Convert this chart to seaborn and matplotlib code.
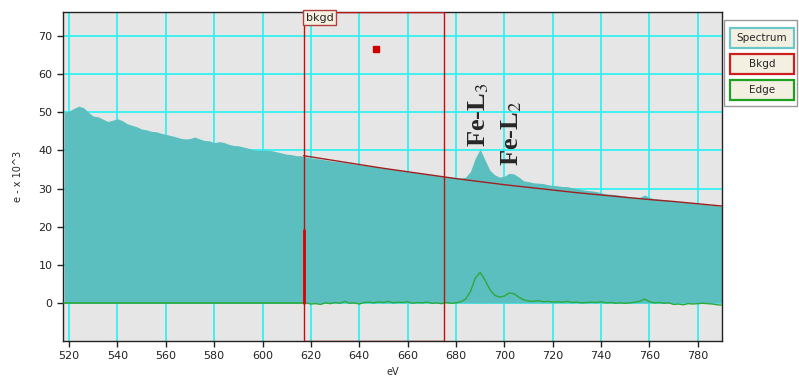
import numpy as np
import matplotlib
matplotlib.use("Agg")
import matplotlib.pyplot as plt
import seaborn as sns
from matplotlib.patches import Rectangle

# Datos (eV, e- x 10^3)
spec_ev = np.arange(518, 791, 2)
spectrum = [
    50.0, 50.3, 51.0, 51.6, 51.2, 50.0, 49.0, 48.8, 48.2, 47.6,
    47.9, 48.3, 47.8, 47.0, 46.6, 46.2, 45.6, 45.4, 45.0, 44.9,
    44.5, 44.2, 43.9, 43.6, 43.2, 43.0, 43.1, 43.5, 43.0, 42.6,
    42.5, 42.0, 42.3, 42.1, 41.6, 41.3, 41.2, 40.9, 40.6, 40.2,
    40.0, 40.1, 40.0, 39.9, 39.6, 39.3, 39.0, 38.9, 38.6, 38.6,
    38.3, 38.0, 37.9, 37.7, 37.5, 37.3, 37.1, 37.0, 36.8, 36.6,
    36.4, 36.2, 36.1, 35.9, 35.8, 35.5, 35.3, 35.2, 35.0, 34.8,
    34.6, 34.4, 34.3, 34.1, 34.0, 33.8, 33.6, 33.5, 33.3, 33.1,
    33.0, 32.8, 32.7, 33.0, 34.5, 38.0, 40.3, 37.5, 34.8, 33.6,
    33.0, 33.2, 34.0, 33.8, 33.0, 32.0, 31.8, 31.5, 31.4, 31.3,
    31.0, 30.8, 30.7, 30.5, 30.5, 30.2, 30.0, 29.7, 29.5, 29.4,
    29.2, 28.9, 28.6, 28.5, 28.4, 28.2, 28.0, 27.8, 27.7, 27.7,
    28.3, 27.7, 27.3, 27.2, 27.1, 26.9, 26.7, 26.6, 26.5, 26.3,
    26.2, 26.0, 25.9, 25.8, 25.6, 25.5, 25.3,
]

bkgd_ev = [617, 630, 640, 650, 660, 670, 680, 690, 700, 710,
           720, 730, 740, 750, 760, 770, 780, 790]
bkgd = [38.6, 37.3, 36.3, 35.3, 34.4, 33.5, 32.6, 31.8, 31.0, 30.3,
        29.6, 28.9, 28.3, 27.7, 27.1, 26.6, 26.0, 25.4]

edge_ev = np.arange(618, 791, 2)
edge = [
    0.0, -0.3, -0.2, -0.4, 0.0, -0.2, 0.1, -0.1, 0.4, -0.1,
    0.0, -0.3, 0.1, 0.2, 0.0, 0.3, 0.1, 0.4, 0.0, 0.2,
    0.1, 0.3, -0.1, 0.1, 0.0, 0.2, -0.1, 0.0, -0.2, 0.1,
    -0.1, 0.0, 0.3, 1.0, 3.0, 6.5, 8.0, 6.0, 3.5, 2.0,
    1.5, 1.8, 2.6, 2.4, 1.5, 0.8, 0.5, 0.4, 0.6, 0.3,
    0.4, 0.2, 0.3, 0.2, 0.4, 0.1, 0.2, 0.0, 0.1, 0.2,
    0.1, 0.3, 0.0, 0.1, -0.1, 0.0, -0.1, 0.0, 0.2, 0.4,
    1.0, 0.3, 0.0, 0.1, -0.1, 0.0, -0.4, -0.3, -0.5, -0.2,
    -0.3, -0.2, -0.1, -0.2, -0.3, -0.5, -0.6,
]
edge_pre_ev = [518, 617]
edge_pre = [0.0, 0.0]

ventana = (617, 675)
marcador = (647, 66.7)
pico = (617, 19.0)
etiquetas = [("Fe-L$_3$", 689.5, 41.0), ("Fe-L$_2$", 703.0, 36.0)]

xticks = list(range(520, 781, 20))
yticks = list(range(0, 71, 10))

sns.set_style("white")
plt.rcParams["font.family"] = ["DejaVu Sans"]

fig = plt.figure(figsize=(7.99, 3.76), dpi=100)
ax = fig.add_axes([63 / 799, 35 / 376, 659 / 799, 329 / 376])
ax.set_facecolor("#e6e6e6")
ax.set_axisbelow(True)
ax.grid(True, color="#33f0f0", linewidth=1.3)

# Espectro relleno
ax.fill_between(spec_ev, 0, spectrum, color="#5cbfbf", linewidth=0, zorder=2)

# Fondo y borde
sns.lineplot(x=bkgd_ev, y=bkgd, ax=ax, color="#a02020", linewidth=1.0, zorder=4)
sns.lineplot(x=edge_pre_ev, y=edge_pre, ax=ax, color="#2ea83a", linewidth=1.2, zorder=4)
sns.lineplot(x=edge_ev, y=edge, ax=ax, color="#2ea83a", linewidth=1.0, zorder=4)

# Pico rojo en el inicio de la ventana
ax.plot([pico[0], pico[0]], [0, pico[1]], color="#dd0000", linewidth=2.0, zorder=7)

# Ventana de fondo
ax.add_patch(Rectangle((ventana[0], -10), ventana[1] - ventana[0], 86.3,
                       fill=False, edgecolor="#c01010", linewidth=1.0, zorder=6))
ax.text(ventana[0] + 0.8, 74.8, "bkgd", fontsize=8, va="center", ha="left", zorder=7,
        bbox=dict(boxstyle="square,pad=0.2", facecolor="#f5f0e0", edgecolor="#b04040", linewidth=1))
ax.plot(*marcador, marker="s", color="#cc0000", markersize=5, zorder=7)

for txt, xe, ye in etiquetas:
    ax.text(xe, ye, txt, rotation=90, ha="center", va="bottom", fontsize=19,
            family="Liberation Serif", fontweight="bold", math_fontfamily="stix", zorder=7)

ax.set_xlim(517.5, 790)
ax.set_ylim(-10, 76.3)
ax.set_xticks(xticks)
ax.set_yticks(yticks)
ax.tick_params(direction="out", length=4, width=1, labelsize=8, colors="#222222", left=True, bottom=True)
for s in ax.spines.values():
    s.set_color("#222222")
    s.set_linewidth(1.0)
ax.set_xlabel("eV", fontsize=7)
ax.set_ylabel("e - x 10^3", fontsize=7, labelpad=11)

# Panel de leyenda a la derecha
W, H = 799, 376
fig.patches.append(Rectangle((724 / W, 1 - 106 / H), 73 / W, 86 / H, transform=fig.transFigure,
                             facecolor="white", edgecolor="#999999", linewidth=1))
botones = [("Spectrum", "#6cc8c8", 28), ("Bkgd", "#cc2020", 54), ("Edge", "#20a020", 80)]
for nombre, color, top in botones:
    fig.patches.append(Rectangle((730 / W, 1 - (top + 20) / H), 64 / W, 20 / H,
                                 transform=fig.transFigure, facecolor="#f3f0e2",
                                 edgecolor=color, linewidth=1.6))
    fig.text(762 / W, 1 - (top + 10) / H, nombre, fontsize=7.5, ha="center", va="center")

fig.savefig("out.png", dpi=100)
